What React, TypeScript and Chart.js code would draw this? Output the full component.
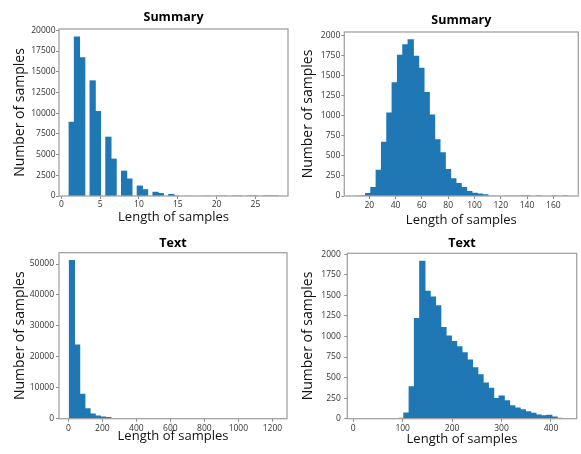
import React, { useEffect, useRef } from "react";
import { Chart, registerables } from "chart.js";
Chart.register(...registerables);

// ---------- DATA ----------
// Panel 1: Summary length (words), 40 bins from 1 to 28
const summaryShortBinStart = 1;
const summaryShortBinWidth = 0.675;
const summaryShortCounts = [
  8900, 19200, 16700, 0, 13900, 10200, 0, 7100, 4450, 0,
  3000, 2050, 0, 1200, 760, 0, 450, 300, 0, 180,
  120, 0, 80, 65, 0, 45, 30, 0, 20, 15,
  0, 10, 8, 0, 5, 4, 0, 3, 2, 1,
];
const summaryShortXTicks = [0, 5, 10, 15, 20, 25];
const summaryShortYTicks = [0, 2500, 5000, 7500, 10000, 12500, 15000, 17500, 20000];

// Panel 2: Summary length, 40 bins from 9 to 171
const summaryLongBinStart = 9;
const summaryLongBinWidth = 4.05;
const summaryLongCounts = [
  3, 12, 30, 107, 321, 670, 1033, 1411, 1753, 1885,
  1946, 1740, 1590, 1290, 1010, 700, 540, 330, 215, 155,
  105, 55, 35, 25, 15, 10, 8, 5, 3, 2,
  2, 1, 1, 0, 1, 0, 0, 1, 0, 1,
];
const summaryLongXTicks = [20, 40, 60, 80, 100, 120, 140, 160];
const summaryLongYTicks = [0, 250, 500, 750, 1000, 1250, 1500, 1750, 2000];

// Panel 3: Text length, 40 bins from 6 to 1225
const textWideBinStart = 6;
const textWideBinWidth = 30.475;
const textWideCounts = [
  51100, 23800, 7900, 3200, 1500, 900, 550, 350, 220, 130,
  80, 50, 30, 20, 15, 10, 8, 6, 5, 4,
  3, 2, 2, 1, 1, 1, 0, 1, 0, 0,
  1, 0, 0, 0, 1, 0, 0, 0, 0, 1,
];
const textWideXTicks = [0, 200, 400, 600, 800, 1000, 1200];
const textWideYTicks = [0, 10000, 20000, 30000, 40000, 50000];

// Panel 4: Text length, 40 bins from 6 to 434
const textNarrowBinStart = 6;
const textNarrowBinWidth = 10.7;
const textNarrowCounts = [
  0, 0, 0, 0, 0, 0, 2, 6, 12, 69,
  389, 1219, 1915, 1550, 1480, 1372, 1109, 1004, 940, 874,
  802, 715, 620, 535, 433, 370, 247, 277, 218, 156,
  130, 110, 85, 65, 45, 35, 42, 20, 12, 6,
];
const textNarrowXTicks = [0, 100, 200, 300, 400];
const textNarrowYTicks = [0, 250, 500, 750, 1000, 1250, 1500, 1750, 2000];

const xLabel = "Length of samples";
const yLabel = "Number of samples";

// ---------- STYLE / LAYOUT ----------
const BAR_COLOR = "#1f77b4";
const FONT = "'Open Sans', 'Noto Sans', sans-serif";

type PanelCfg = {
  left: number; top: number; width: number; height: number;
  title: string;
  counts: number[]; binStart: number; binWidth: number;
  xMin: number; xMax: number; yMax: number;
  xTicks: number[]; yTicks: number[];
  area: { left: number; right: number; top: number; bottom: number };
  titleY: number; xLabelY: number; yLabelX: number;
  xTickPad: number; yTickPad: number;
};

const panels: PanelCfg[] = [
  {
    left: 0, top: 0, width: 290, height: 228, title: "Summary",
    counts: summaryShortCounts, binStart: summaryShortBinStart, binWidth: summaryShortBinWidth,
    xMin: -0.3, xMax: 29.2, yMax: 20160,
    xTicks: summaryShortXTicks, yTicks: summaryShortYTicks,
    area: { left: 59, right: 288, top: 29, bottom: 196 },
    titleY: 17.5, xLabelY: 217, yLabelX: 20, xTickPad: 0, yTickPad: 0.5,
  },
  {
    left: 290, top: 0, width: 291, height: 228, title: "Summary",
    counts: summaryLongCounts, binStart: summaryLongBinStart, binWidth: summaryLongBinWidth,
    xMin: 1, xMax: 179, yMax: 2043,
    xTicks: summaryLongXTicks, yTicks: summaryLongYTicks,
    area: { left: 54.3, right: 288.3, top: 32, bottom: 196 },
    titleY: 20, xLabelY: 220, yLabelX: 18, xTickPad: 1, yTickPad: 1,
  },
  {
    left: 0, top: 228, width: 290, height: 226, title: "Text",
    counts: textWideCounts, binStart: textWideBinStart, binWidth: textWideBinWidth,
    xMin: -55, xMax: 1286, yMax: 53655,
    xTicks: textWideXTicks, yTicks: textWideYTicks,
    area: { left: 59, right: 287, top: 24.7, bottom: 190.7 },
    titleY: 15.3, xLabelY: 208, yLabelX: 20.5, xTickPad: 1.5, yTickPad: 2,
  },
  {
    left: 290, top: 228, width: 291, height: 226, title: "Text",
    counts: textNarrowCounts, binStart: textNarrowBinStart, binWidth: textNarrowBinWidth,
    xMin: -12, xMax: 452, yMax: 2011,
    xTicks: textNarrowXTicks, yTicks: textNarrowYTicks,
    area: { left: 57.3, right: 286.7, top: 25.3, bottom: 190.7 },
    titleY: 15.3, xLabelY: 211.3, yLabelX: 18.3, xTickPad: 1.5, yTickPad: 3.5,
  },
];

const framePlugin = {
  id: "frame",
  afterDatasetsDraw(chart: any) {
    const { ctx, chartArea: a } = chart;
    ctx.save();
    ctx.strokeStyle = "#a3a3a3";
    ctx.lineWidth = 1.3;
    ctx.strokeRect(a.left, a.top, a.right - a.left, a.bottom - a.top);
    ctx.restore();
  },
};

function Panel({ cfg }: { cfg: PanelCfg }) {
  const ref = useRef<HTMLCanvasElement>(null);
  useEffect(() => {
    if (!ref.current) return;
    const titleSize = 12.5, xTitleSize = 13, yTitleSize = 14, tickSize = 8.5;
    const tLH = titleSize * 1.2, xLH = xTitleSize * 1.2, yLH = yTitleSize * 1.2;
    const tickLen = 3;
    // histogram table: bin centres from start/width, empty bins left out
    const data = cfg.counts
      .map((c, i) => ({ x: cfg.binStart + (i + 0.5) * cfg.binWidth, y: c }))
      .filter((d) => d.y > 0);
    const chart = new Chart(ref.current, {
      type: "bar",
      data: {
        datasets: [
          {
            data,
            backgroundColor: BAR_COLOR,
            borderWidth: 0,
            barPercentage: 1,
            categoryPercentage: 1,
            // slight overlap hides anti-aliasing seams between adjacent bins,
            // but is skipped for sub-pixel tail bins so they stay invisible
            inflateAmount: (c: any) =>
              c.raw && c.raw.y > cfg.yMax * 0.006 ? 0.5 : 0,
            grouped: false,
          } as any,
        ],
      },
      plugins: [framePlugin],
      options: {
        animation: false,
        responsive: false,
        devicePixelRatio: 1,
        layout: { padding: { left: 0, top: 0, bottom: 0, right: cfg.width - cfg.area.right } },
        plugins: {
          legend: { display: false },
          tooltip: { enabled: false },
          title: {
            display: true,
            text: cfg.title,
            fullSize: false,
            color: "#000",
            font: { family: FONT, size: titleSize, weight: "bold" },
            padding: {
              top: cfg.titleY - tLH / 2,
              bottom: cfg.area.top - cfg.titleY - tLH / 2,
            },
          },
        },
        scales: {
          x: {
            type: "linear",
            min: cfg.xMin,
            max: cfg.xMax,
            offset: false,
            border: { display: false },
            grid: {
              display: true, drawOnChartArea: false, drawTicks: true,
              tickLength: tickLen, tickColor: "#8a8a8a", offset: false,
            },
            ticks: {
              font: { family: FONT, size: tickSize },
              color: "#333",
              padding: cfg.xTickPad,
              maxRotation: 0,
              autoSkip: false,
              callback: (v: any) => String(v),
            },
            afterBuildTicks: (s: any) => {
              s.ticks = cfg.xTicks.map((v) => ({ value: v }));
            },
            afterFit: (s: any) => {
              s.height = cfg.height - cfg.area.bottom;
              s.paddingLeft = 0; s.paddingRight = 0; s.paddingTop = 0; s.paddingBottom = 0;
            },
            title: {
              display: true,
              text: xLabel,
              color: "#111",
              font: { family: FONT, size: xTitleSize },
              padding: { top: 0, bottom: cfg.height - cfg.xLabelY - xLH / 2 },
            },
          } as any,
          y: {
            type: "linear",
            min: 0,
            max: cfg.yMax,
            border: { display: false },
            grid: {
              display: true, drawOnChartArea: false, drawTicks: true,
              tickLength: tickLen, tickColor: "#8a8a8a",
            },
            ticks: {
              font: { family: FONT, size: tickSize },
              color: "#333",
              padding: cfg.yTickPad,
              autoSkip: false,
              callback: (v: any) => String(v),
            },
            afterBuildTicks: (s: any) => {
              s.ticks = cfg.yTicks.map((v) => ({ value: v }));
            },
            afterFit: (s: any) => {
              s.width = cfg.area.left;
              s.paddingLeft = 0; s.paddingRight = 0; s.paddingTop = 0; s.paddingBottom = 0;
            },
            title: {
              display: true,
              text: yLabel,
              color: "#111",
              font: { family: FONT, size: yTitleSize },
              padding: { top: cfg.yLabelX - yLH / 2, bottom: 0 },
            },
          } as any,
        },
      },
    });
    return () => chart.destroy();
  }, [cfg]);
  return (
    <canvas
      ref={ref}
      width={cfg.width}
      height={cfg.height}
      style={{
        position: "absolute",
        left: cfg.left,
        top: cfg.top,
        width: cfg.width,
        height: cfg.height,
      }}
    />
  );
}

export default function App() {
  return (
    <div
      style={{
        position: "absolute",
        left: 0,
        top: 0,
        width: 581,
        height: 454,
        background: "#fff",
        overflow: "hidden",
      }}
    >
      {panels.map((p, i) => (
        <Panel key={i} cfg={p} />
      ))}
    </div>
  );
}
